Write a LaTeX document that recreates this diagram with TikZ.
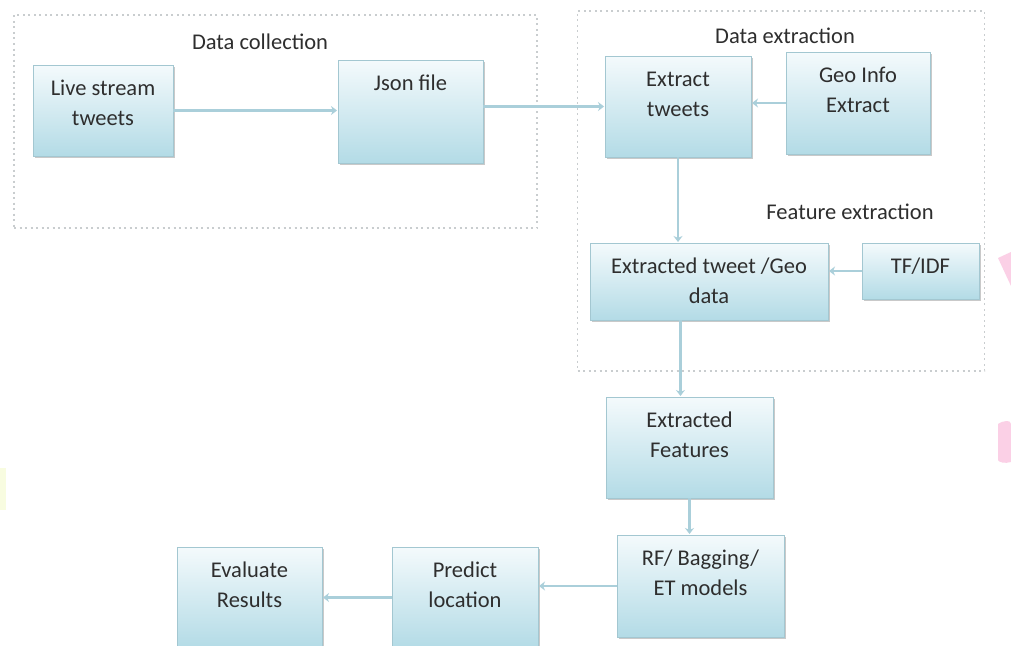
\documentclass[tikz,border=0pt]{standalone}
\usepackage{fontspec}
\setmainfont{Carlito}
\usetikzlibrary{arrows.meta,shadows,calc}
\definecolor{boxtop}{HTML}{F4FAFC}
\definecolor{boxbot}{HTML}{B3DBE6}
\definecolor{boxline}{HTML}{A3C7D1}
\definecolor{arrowc}{HTML}{AACFDA}
\definecolor{dashc}{HTML}{C9CDCF}
\definecolor{txt}{HTML}{2E2E2E}
\definecolor{pinkc}{HTML}{FBD0E6}
\definecolor{yelc}{HTML}{F8FCE0}
\tikzset{
  box/.style={draw=boxline, line width=1pt, top color=boxtop, bottom color=boxbot,
    inner sep=0pt, outer sep=0pt, text=txt,
    drop shadow={shadow xshift=1.8pt, shadow yshift=-2pt, opacity=.35, fill=black!60}},
  flow/.style={draw=arrowc, line width=2.8pt, -{Stealth[length=6pt,width=9pt]}, shorten >=1pt},
  group/.style={draw=dashc, line width=1.4pt, dash pattern=on 2pt off 3.5pt},
  grouplabel/.style={text=txt, font=\fontsize{22.5}{26}\selectfont, inner sep=0pt}
}
\newcommand\bx[6]{%
  \node[box] (#1) at ({(#2+#4)/2},{(#3+#5)/2})
   {\parbox[t][\dimexpr #5pt-#3pt\relax][t]{\dimexpr #4pt-#2pt\relax}{\centering
    \fontsize{22.5}{30}\selectfont\rule{0pt}{30pt}#6}};}
\begin{document}
\begin{tikzpicture}[x=1pt,y=-1pt]
\useasboundingbox (0,0) rectangle (1011,645);
\clip (0,0) rectangle (1011,645);
\fill[white] (0,0) rectangle (1011,645);
% faint edge artifacts
\fill[pinkc] (998,258) -- (1011,252) -- (1011,286) -- cycle;
\fill[pinkc] (998,424) .. controls (1004,420) and (1011,420) .. (1011,424) -- (1011,462) .. controls (1005,464) and (998,462) .. (998,460) -- cycle;
\fill[yelc] (0,468) rectangle (6,510);
% groups
\node[group, minimum width=523pt, minimum height=213pt, inner sep=0pt] (gcoll) at (275.5,121.5) {};
\node[group, minimum width=407pt, minimum height=360pt, inner sep=0pt] (gext) at (781,191) {};
\node[grouplabel] (lcoll) at (260,42) {Data collection};
\node[grouplabel] (lext) at (785,36) {Data extraction};
\node[grouplabel] (lfeat) at (850,212) {Feature extraction};
% boxes
\bx{live}{33}{65}{173}{156}{Live stream\\tweets}
\bx{json}{338}{60}{483}{163}{Json file}
\bx{ext}{605}{56}{751}{157}{Extract\\tweets}
\bx{geo}{786}{52}{930}{154}{Geo Info\\Extract}
\bx{etg}{590}{243}{828}{320}{Extracted tweet /Geo\\data}
\bx{tfidf}{862}{243}{979}{299}{TF/IDF}
\bx{ef}{606}{397}{773}{498}{Extracted\\Features}
\bx{rf}{617}{535}{784}{637}{RF/ Bagging/\\ET models}
\bx{pred}{392}{547}{538}{648}{Predict\\location}
\bx{eval}{177}{547}{322}{648}{Evaluate\\Results}
% connectors
\draw[flow] (live.east) -- (live.east -| json.west);
\draw[flow] (ext.west -| json.east) -- (ext.west);
\draw[flow] (geo.west) -- (geo.west -| ext.east);
\draw[flow] (ext.south) -- (ext.south |- etg.north);
\draw[flow] (tfidf.west) -- (tfidf.west -| etg.east);
\coordinate (etgout) at ($(etg.south west)!0.38!(etg.south east)$);
\draw[flow] (etgout) -- (etgout |- ef.north);
\draw[flow] (ef.south) -- (ef.south |- rf.north);
\draw[flow] (rf.west) -- (rf.west -| pred.east);
\draw[flow] (pred.west) -- (pred.west -| eval.east);
\end{tikzpicture}
\end{document}
